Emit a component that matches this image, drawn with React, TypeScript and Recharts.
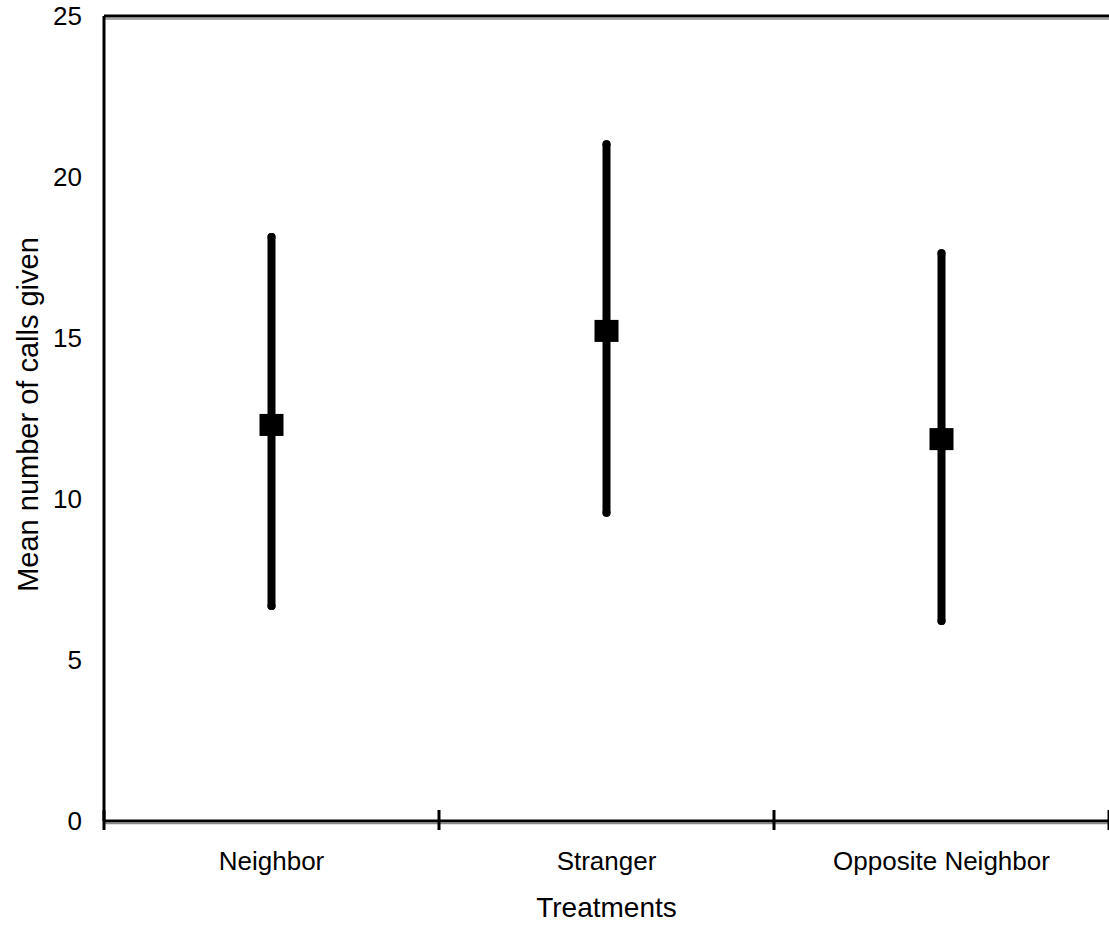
import {
	ComposedChart,
	ErrorBar,
	ReferenceLine,
	Scatter,
	XAxis,
	YAxis
} from 'recharts'

// values
const treatments = ['Neighbor', 'Stranger', 'Opposite Neighbor']
const meanCalls = [12.3, 15.22, 11.86]
const lowCalls = [6.68, 9.57, 6.21]
const highCalls = [18.14, 21.02, 17.63]
const yTicks = [0, 5, 10, 15, 20, 25]
// category boundaries get tick marks, category centres get labels
const xTicks = [0, 0.5, 1, 1.5, 2, 2.5, 3]

const FONT = '"Liberation Sans", Arial, sans-serif'

const data = treatments.map((name, i) => ({
	name,
	x: i + 0.5,
	mean: meanCalls[i],
	err: [meanCalls[i] - lowCalls[i], highCalls[i] - meanCalls[i]]
}))

function XTick(props: any) {
	const { x, y, payload } = props
	const v = payload.value as number
	if (Number.isInteger(v)) {
		return <line x1={x} x2={x} y1={y - 11} y2={y + 9} stroke="#000" strokeWidth={3} />
	}
	return (
		<text x={x} y={y + 49} textAnchor="middle" fontSize={26} fontFamily={FONT} fill="#000">
			{treatments[Math.floor(v)]}
		</text>
	)
}

function Square(props: any) {
	const { cx, cy } = props
	if (cx == null || cy == null) return null
	return <rect x={cx - 12} y={cy - 11} width={24} height={22} fill="#000" />
}

// double border line (black with a thin grey line beside it)
function doubleLine(offset: number) {
	return (props: any) => {
		const { x1, x2, y1 } = props
		return (
			<g>
				<line x1={x1} x2={x2} y1={y1} y2={y1} stroke="#000" strokeWidth={3} />
				<line x1={x1} x2={x2} y1={y1 + offset} y2={y1 + offset} stroke="#888" strokeWidth={1.5} />
			</g>
		)
	}
}

function YLabel(props: any) {
	const vb = props.viewBox || {}
	const cy = (vb.y ?? 16) + (vb.height ?? 805) / 2 - 4
	const cx = 28
	return (
		<text
			x={cx}
			y={cy}
			transform={`rotate(-90, ${cx}, ${cy})`}
			textAnchor="middle"
			dominantBaseline="central"
			fontSize={29}
			fontFamily={FONT}
			fill="#000"
		>
			Mean number of calls given
		</text>
	)
}

export default function App() {
	return (
		<div style={{ position: 'absolute', left: 0, top: 0, width: 1109, height: 925, background: '#fff' }}>
			<ComposedChart
				width={1109}
				height={925}
				data={data}
				margin={{ top: 16, right: 0, bottom: 0, left: 0 }}
			>
				<XAxis
					type="number"
					dataKey="x"
					domain={[0, 3]}
					ticks={xTicks}
					interval={0}
					height={104}
					axisLine={false}
					tickLine={false}
					tickSize={0}
					tickMargin={0}
					tick={<XTick />}
					label={{
						value: 'Treatments',
						position: 'insideBottom',
						offset: 8,
						fontSize: 28,
						fontFamily: FONT,
						fill: '#000'
					}}
				/>
				<YAxis
					type="number"
					domain={[0, 25]}
					ticks={yTicks}
					width={104}
					axisLine={{ stroke: '#000', strokeWidth: 3 }}
					tickLine={false}
					tickSize={0}
					tickMargin={22}
					tick={{ fontSize: 26, fontFamily: FONT, fill: '#000' }}
					label={<YLabel />}
				/>
				<ReferenceLine y={25} shape={doubleLine(3)} />
				<ReferenceLine y={0} shape={doubleLine(2.5)} />
				<Scatter dataKey="mean" shape={<Square />} isAnimationActive={false}>
					<ErrorBar
						dataKey="err"
						direction="y"
						width={0}
						stroke="#000"
						strokeWidth={8}
						strokeLinecap="round"
						isAnimationActive={false}
					/>
				</Scatter>
			</ComposedChart>
		</div>
	)
}
